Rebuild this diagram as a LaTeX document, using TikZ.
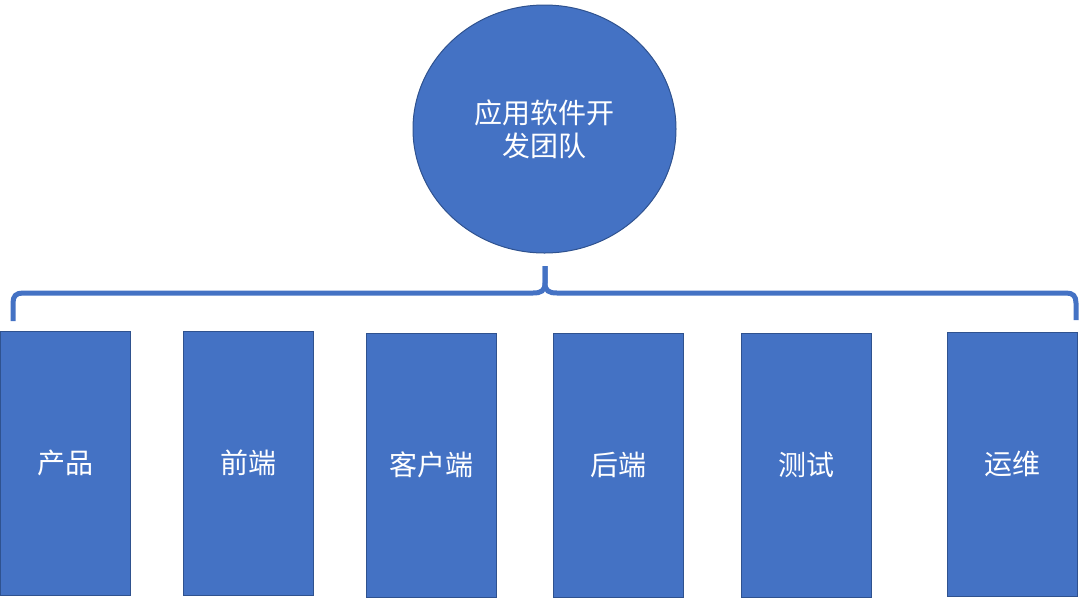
\documentclass[tikz,border=0pt]{standalone}
\usepackage{fontspec}
\usetikzlibrary{shapes.geometric}
\newfontfamily\cjk{Noto Sans CJK SC}
\definecolor{fillblue}{HTML}{4472C4}
\definecolor{edgeblue}{HTML}{2F528F}
\begin{document}
\begin{tikzpicture}[x=1pt,y=-1pt,
  team/.style={draw=edgeblue,line width=1pt,fill=fillblue,text=white,
    font=\cjk\fontsize{28}{33}\selectfont,inner sep=0pt},
  rolebox/.style={team,rectangle,minimum width=130pt,minimum height=264pt},
  bracket/.style={draw=fillblue,line width=5pt}]
\useasboundingbox (0,0) rectangle (1080,598);
\node[team,ellipse,minimum width=263pt,minimum height=248pt,align=center] (top) at (544.5,129) {应用软件开\\发团队};
\node[rolebox] (b1) at (65.5,463) {产品};
\node[rolebox] (b2) at (248,463) {前端};
\node[rolebox] (b3) at (431,465) {客户端};
\node[rolebox] (b4) at (618,465) {后端};
\node[rolebox] (b5) at (806,465) {测试};
\node[rolebox] (b6) at (1012,464) {运维};
\coordinate (tip) at (545,266);
\coordinate (lend) at (13,321);
\coordinate (rend) at (1076,320);
\draw[bracket] (lend) -- (13,303) .. controls (13,296) and (16,293) .. (23,293) -- (533,293) .. controls (541,293) and (545,291) .. (545,283) -- (tip);
\draw[bracket] (tip) -- (545,283) .. controls (545,291) and (549,293) .. (557,293) -- (1066,293) .. controls (1073,293) and (1076,296) .. (1076,303) -- (rend);
\end{tikzpicture}
\end{document}
